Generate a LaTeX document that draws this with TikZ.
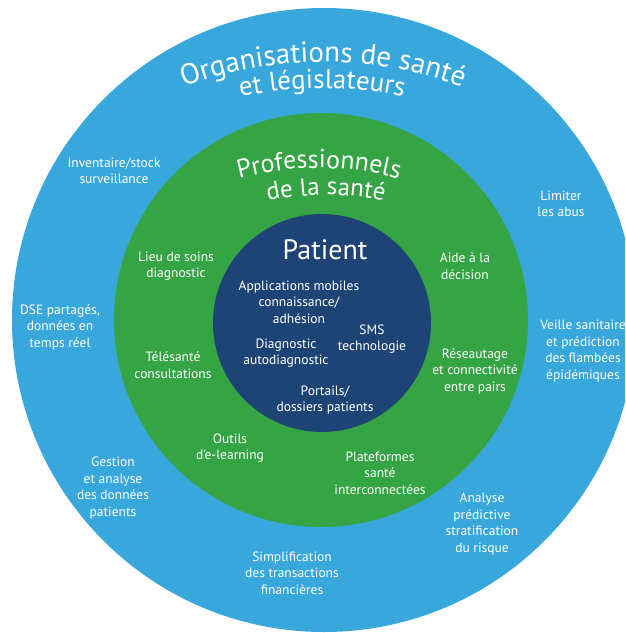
\documentclass[tikz,border=0pt]{standalone}
\usepackage{fontspec}
\setmainfont{PT Sans}
\usetikzlibrary{decorations.text}
\definecolor{orgblue}{HTML}{38A8DC}
\definecolor{progreen}{HTML}{35A444}
\definecolor{patnavy}{HTML}{1E4476}

\begin{document}
\begin{tikzpicture}[x=1pt,y=1pt,
  item/.style={text=white,align=center,font=\fontsize{13.5}{16.5}\selectfont,inner sep=0pt},
  title/.style={text=white,font=\fontsize{28}{28}\selectfont,inner sep=0pt}]

	\useasboundingbox (0,0) rectangle (625,-633);
	\clip (0,0) rectangle (625,-633);

	% rings
	\fill[orgblue] (324,-320) circle[radius=312];
	\fill[progreen] (321,-320) circle[radius=207];
	\fill[patnavy] (322,-323) circle[radius=109];

	% curved titles
	\path[decorate,decoration={text along path,text align=center,text color=white,
		text={|\fontsize{29}{29}\selectfont|Organisations de santé}}]
		(323,-462) ++(130:400) arc[start angle=130,end angle=50,radius=400];
	\path[decorate,decoration={text along path,text align=center,text color=white,
		text={|\fontsize{27}{27}\selectfont|et législateurs}}]
		(322,-470) ++(125:382) arc[start angle=125,end angle=55,radius=382];
	\path[decorate,decoration={text along path,text align=center,text color=white,
		text={|\fontsize{26}{26}\selectfont|Professionnels}}]
		(319,-470) ++(120:302) arc[start angle=120,end angle=60,radius=302];
	\path[decorate,decoration={text along path,text align=center,text color=white,
		text={|\fontsize{25}{25}\selectfont|de la santé}}]
		(326,-480) ++(115:285) arc[start angle=115,end angle=65,radius=285];

	\node[title] (patient) at (325,-250) {Patient};

	% outer ring
	\node[item] (stock) at (114,-171) {Inventaire/stock\\surveillance};
	\node[item] (abus) at (561,-204) {Limiter\\les abus};
	\node[item] (dse) at (60,-327) {DSE partagés,\\données en\\temps réel};
	\node[item] (veille) at (583,-351) {Veille sanitaire\\et prédiction\\des flambées\\épidémiques};
	\node[item] (gestion) at (113,-488) {Gestion\\et analyse\\des données\\patients};
	\node[item] (analyse) at (482,-524) {Analyse\\prédictive\\stratification\\du risque};
	\node[item] (finance) at (292,-573) {Simplification\\des transactions\\financières};

	% green ring
	\node[item] (lieu) at (176,-266) {Lieu de soins\\diagnostic};
	\node[item] (aide) at (465,-266) {Aide à la\\décision};
	\node[item] (tele) at (173,-365) {Télésanté\\consultations};
	\node[item] (reseau) at (475,-371) {Réseautage\\et connectivité\\entre pairs};
	\node[item] (outils) at (230,-448) {Outils\\d’e-learning};
	\node[item] (plateforme) at (380,-473) {Plateformes\\santé\\interconnectées};

	% patient circle
	\node[item] (apps) at (299,-302) {Applications mobiles\\connaissance/\\adhésion};
	\node[item] (sms) at (372,-339) {SMS\\technologie};
	\node[item] (diag) at (286,-353) {Diagnostic\\autodiagnostic};
	\node[item] (portails) at (325,-400) {Portails/\\dossiers patients};

\end{tikzpicture}
\end{document}
